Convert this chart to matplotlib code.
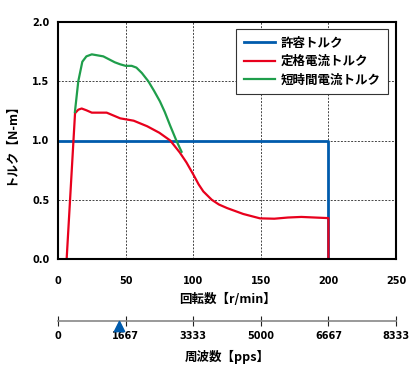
import numpy as np
import matplotlib
matplotlib.use("Agg")
import matplotlib.pyplot as plt

plt.rcParams['font.family'] = ['DejaVu Sans', 'Noto Sans CJK JP']

# 許容トルク
allow_rpm = [0, 200, 200]
allow_trq = [1.0, 1.0, 0.0]

# 定格電流トルク
rated_rpm = [6.4, 12.6, 15, 17.5, 21, 25, 36, 46, 56, 66, 75, 83, 90, 95, 100,
             104, 107.5, 113.7, 119, 125, 137, 149.4, 160, 170, 180, 190, 200, 200]
rated_trq = [0.0, 1.23, 1.26, 1.27, 1.255, 1.235, 1.235, 1.187, 1.167, 1.12, 1.065,
             1.0, 0.9, 0.815, 0.715, 0.63, 0.57, 0.50, 0.46, 0.43, 0.38, 0.343, 0.34,
             0.35, 0.355, 0.35, 0.345, 0.0]

# 短時間電流トルク
short_rpm = [12.5, 15, 18, 21, 25, 33.5, 42, 46, 50, 54.5, 58, 62, 66.8, 71,
             75.4, 79, 82.8, 87.7, 91.4]
short_trq = [1.24, 1.50, 1.665, 1.71, 1.727, 1.71, 1.66, 1.643, 1.63, 1.63,
             1.615, 1.57, 1.50, 1.42, 1.33, 1.24, 1.13, 0.995, 0.905]

x_ticks = [0, 50, 100, 150, 200, 250]
y_ticks = [0.0, 0.5, 1.0, 1.5, 2.0]
pps_ticks = [0, 1667, 3333, 5000, 6667, 8333]
marker_pps = 1500

blue = '#005BAC'
red = '#E8001C'
green = '#1F9E4B'
jp = ['Noto Sans CJK JP']

fig = plt.figure(figsize=(4.2, 3.7), dpi=100)
ax = fig.add_axes([58 / 420, 1 - 259 / 370, 338 / 420, 237 / 370])

ax.plot(allow_rpm, allow_trq, color=blue, lw=2.0, label='許容トルク')
ax.plot(rated_rpm, rated_trq, color=red, lw=1.6, label='定格電流トルク')
ax.plot(short_rpm, short_trq, color=green, lw=1.6, label='短時間電流トルク')

ax.set_xlim(0, 250)
ax.set_ylim(0, 2.0)
ax.set_xticks(x_ticks)
ax.set_yticks(y_ticks)
ax.set_yticklabels([f'{v:.1f}' for v in y_ticks])
ax.tick_params(length=0, labelsize=7)
ax.tick_params(axis='x', pad=12)
ax.tick_params(axis='y', pad=6)
for lab in ax.get_xticklabels() + ax.get_yticklabels():
    lab.set_fontweight('bold')
ax.grid(True, color='#444444', ls=(0, (2, 1.5)), lw=0.7)
for s in ax.spines.values():
    s.set_linewidth(1.5)
    s.set_color('black')

ax.set_xlabel('回転数【r/min】', family=jp, fontsize=9, fontweight='bold', labelpad=5)
ax.set_ylabel('トルク【N-m】', family=jp, fontsize=9, fontweight='bold', labelpad=11)

leg = ax.legend(loc='upper right', prop={'family': jp, 'size': 9, 'weight': 'bold'},
                fancybox=False, framealpha=1, edgecolor='#333333', handlelength=2.5,
                borderpad=0.6, labelspacing=0.45, handletextpad=0.45, borderaxespad=0)
leg.get_frame().set_linewidth(0.8)
leg.set_bbox_to_anchor(((388 - 58) / 338, 1 - 7 / 237), transform=ax.transAxes)

# 周波数軸
ax2 = fig.add_axes([58 / 420, 1 - 331 / 370, 338 / 420, 20 / 370])
ax2.set_xlim(0, 8333)
ax2.set_ylim(-1, 1)
for k in ['top', 'left', 'right']:
    ax2.spines[k].set_visible(False)
ax2.spines['bottom'].set_position(('data', 0))
ax2.spines['bottom'].set_color('#888888')
ax2.spines['bottom'].set_linewidth(1.2)
ax2.set_yticks([])
ax2.set_xticks(pps_ticks)
ax2.tick_params(axis='x', direction='inout', length=7, width=0.8, color='#222222',
                labelsize=7, pad=4)
for lab in ax2.get_xticklabels():
    lab.set_fontweight('bold')
ax2.patch.set_alpha(0)
ax2.scatter([marker_pps], [-0.5], marker='^', s=55, color=blue, clip_on=False, zorder=5)
fig.text(227 / 420, 1 - 357 / 370, '周波数【pps】', family=jp, fontsize=9,
         fontweight='bold', ha='center', va='center')

fig.savefig('out.png', dpi=100)
